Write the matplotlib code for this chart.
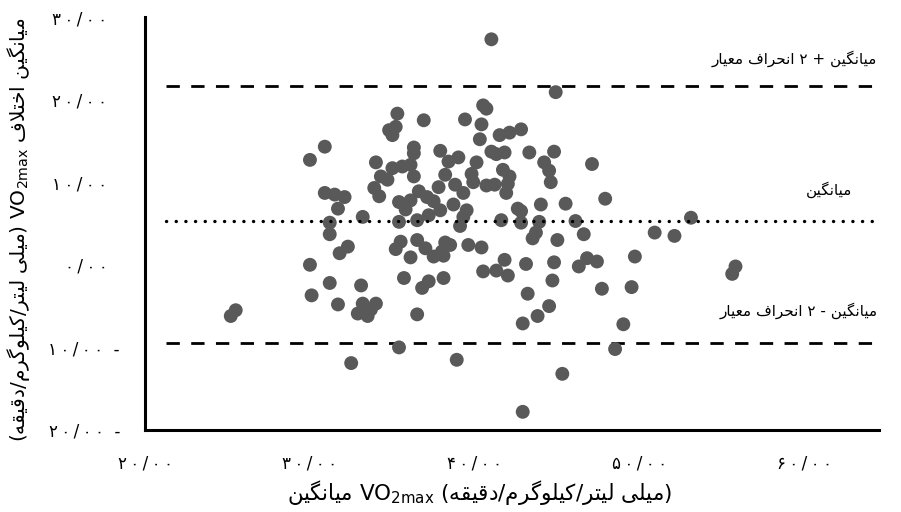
import matplotlib
matplotlib.use("Agg")
import matplotlib.pyplot as plt

# Bland-Altman: mean VO2max (x) vs difference (y)
mean_vo2 = [41.0, 44.9, 40.5, 40.7, 35.3, 36.9, 39.4, 40.4, 34.8, 35.2,
            35.0, 41.5, 42.1, 42.8, 40.3, 30.9, 30.0, 36.3, 36.3, 37.9,
            41.0, 41.3, 41.8, 43.3, 44.8, 34.0, 35.0, 35.6, 36.1, 38.4,
            39.0, 40.1, 44.2, 44.5, 44.6, 47.1, 34.3, 34.7, 36.3, 38.2,
            39.8, 39.9, 41.7, 42.1, 42.0, 41.9, 40.7, 41.2, 33.9, 34.2,
            37.8, 38.8, 39.3, 30.9, 31.5, 32.1, 31.7, 35.4, 35.8, 36.1,
            36.6, 37.1, 37.5, 37.9, 38.7, 39.5, 39.3, 39.1, 42.6, 42.8,
            44.0, 45.5, 47.9, 33.2, 37.2, 31.2, 31.2, 35.4, 36.5, 41.6,
            42.8, 43.9, 43.7, 43.5, 46.1, 53.1, 45.0, 46.6, 50.9, 52.1,
            31.8, 32.3, 35.2, 35.5, 36.5, 37.0, 37.5, 38.1, 38.2, 38.5,
            38.0, 36.1, 39.6, 40.4, 30.0, 31.2, 33.1, 30.1, 31.7, 33.2,
            34.0, 32.9, 33.5, 33.7, 25.5, 25.2, 35.7, 36.8, 37.2, 38.1,
            36.5, 40.5, 41.3, 41.8, 42.0, 43.1, 44.8, 44.7, 43.2, 44.5,
            43.8, 42.9, 46.3, 46.8, 47.4, 49.7, 55.8, 55.6, 47.7, 49.5,
            49.0, 48.5, 35.4, 32.5, 38.9, 45.3, 42.9]
diff_vo2 = [27.3, 20.9, 19.3, 18.9, 18.3, 17.5, 17.6, 17.0, 16.3, 16.7,
            15.7, 15.7, 16.0, 16.4, 15.2, 14.3, 12.7, 14.2, 13.5, 13.8,
            13.7, 13.4, 13.6, 13.6, 13.7, 12.4, 11.7, 11.9, 12.1, 12.5,
            13.0, 12.4, 12.4, 11.4, 10.0, 12.2, 10.7, 10.3, 10.7, 10.9,
            11.0, 10.0, 11.5, 10.7, 9.8, 8.7, 9.6, 9.7, 9.3, 8.3,
            9.4, 9.7, 8.7, 8.7, 8.5, 8.2, 6.8, 7.6, 6.7, 7.8,
            8.9, 8.2, 7.7, 6.6, 7.3, 6.6, 5.8, 4.7, 6.8, 6.5,
            7.3, 7.4, 8.0, 5.8, 6.0, 5.1, 3.7, 5.2, 5.4, 5.4,
            5.1, 5.2, 3.9, 3.2, 5.3, 5.7, 3.0, 3.7, 3.9, 3.5,
            1.4, 2.2, 1.9, 2.8, 3.0, 2.0, 1.0, 1.1, 2.7, 2.4,
            1.6, 0.9, 2.4, 2.1, 0.0, -2.2, -2.5, -3.7, -4.8, -4.7,
            -4.7, -5.9, -6.2, -5.4, -5.5, -6.2, -1.6, -2.8, -2.0, -1.6,
            -6.0, -0.8, -0.7, 0.6, -1.3, 0.1, 0.3, -1.9, -3.5, -5.0,
            -6.2, -7.1, -0.2, 0.8, 0.4, 1.0, -0.2, -1.1, -2.9, -2.7,
            -7.2, -10.2, -10.0, -11.9, -11.5, -13.2, -17.8]

mean_diff = 5.3
upper_loa = 21.7
lower_loa = -9.5
line_x = [21.3, 64.5]

x_ticks = [20, 30, 40, 50, 60]
x_ticklabels = ['۲۰/۰۰', '۳۰/۰۰', '۴۰/۰۰', '۵۰/۰۰', '۶۰/۰۰']
y_ticks = [-20, -10, 0, 10, 20, 30]
y_ticklabels = ['۲۰/۰۰  -', '۱۰/۰۰  -', '۰/۰۰', '۱۰/۰۰', '۲۰/۰۰', '۳۰/۰۰']

# minimal persian shaping (matplotlib has no bidi / joining)
FORMS = {
    'ا': ('\uFE8D', '\uFE8E', None, None),
    'ت': ('\uFE95', '\uFE96', '\uFE97', '\uFE98'),
    'ح': ('\uFEA1', '\uFEA2', '\uFEA3', '\uFEA4'),
    'خ': ('\uFEA5', '\uFEA6', '\uFEA7', '\uFEA8'),
    'د': ('\uFEA9', '\uFEAA', None, None),
    'ر': ('\uFEAD', '\uFEAE', None, None),
    'ع': ('\uFEC9', '\uFECA', '\uFECB', '\uFECC'),
    'ف': ('\uFED1', '\uFED2', '\uFED3', '\uFED4'),
    'ق': ('\uFED5', '\uFED6', '\uFED7', '\uFED8'),
    'ل': ('\uFEDD', '\uFEDE', '\uFEDF', '\uFEE0'),
    'م': ('\uFEE1', '\uFEE2', '\uFEE3', '\uFEE4'),
    'ن': ('\uFEE5', '\uFEE6', '\uFEE7', '\uFEE8'),
    'ه': ('\uFEE9', '\uFEEA', '\uFEEB', '\uFEEC'),
    'و': ('\uFEED', '\uFEEE', None, None),
    'ی': ('\uFBFC', '\uFBFD', '\uFBFE', '\uFBFF'),
    'ک': ('\uFB8E', '\uFB8F', '\uFB90', '\uFB91'),
    'گ': ('\uFB92', '\uFB93', '\uFB94', '\uFB95'),
}


def shape(text):
    out = []
    i = 0
    n = len(text)
    while i < n:
        c = text[i]
        if c not in FORMS:
            out.append(c)
            i += 1
            continue
        prev = text[i - 1] if i > 0 else ''
        joins_prev = prev in FORMS and FORMS[prev][2] is not None
        if c == 'ل' and i + 1 < n and text[i + 1] == 'ا':
            out.append('\uFEFC' if joins_prev else '\uFEFB')
            i += 2
            continue
        nxt = text[i + 1] if i + 1 < n else ''
        joins_next = FORMS[c][2] is not None and nxt in FORMS
        iso, fin, ini, med = FORMS[c]
        if joins_prev and joins_next:
            out.append(med)
        elif joins_prev:
            out.append(fin)
        elif joins_next:
            out.append(ini)
        else:
            out.append(iso)
        i += 1
    return ''.join(out)


def rtl(text):
    return shape(text)[::-1].translate(str.maketrans('()', ')('))


def spaced(s):
    # the original number format has wide letter spacing
    return '\u2009'.join(s)


plt.rcParams['font.family'] = ['DejaVu Sans']
plt.rcParams['mathtext.fontset'] = 'dejavusans'

fig = plt.figure(figsize=(9.01, 5.12), dpi=100)
ax = fig.add_axes([145 / 901, 1 - 430 / 512, 734 / 901, 413 / 512])

ax.scatter(mean_vo2, diff_vo2, s=100, color='#595959', edgecolors='none', zorder=3)

ax.plot(line_x, [upper_loa, upper_loa], color='black', lw=2.0,
        linestyle=(0, (4.8, 4.1)), zorder=2)
ax.plot(line_x, [lower_loa, lower_loa], color='black', lw=2.0,
        linestyle=(0, (4.8, 4.1)), zorder=2)
ax.plot(line_x, [mean_diff, mean_diff], color='black', lw=2.4,
        linestyle=(0, (0.05, 2.85)), dash_capstyle='round', zorder=4)

ax.text(64.4, upper_loa + 3.3, rtl('میانگین + ۲ انحراف معیار'),
        ha='right', va='center', fontsize=11)
ax.text(61.5, mean_diff + 3.8, rtl('میانگین'), ha='center', va='center', fontsize=11)
ax.text(64.4, lower_loa + 4.0, rtl('میانگین - ۲ انحراف معیار'),
        ha='right', va='center', fontsize=11)

ax.set_xlim(20, 64.5)
ax.set_ylim(-20, 30)
ax.set_xticks(x_ticks)
ax.set_xticklabels([spaced(t) for t in x_ticklabels])
ax.set_yticks(y_ticks)
ax.set_yticklabels([spaced(t) if '-' not in t else spaced(t[:-3]) + t[-3:] for t in y_ticklabels])
ax.tick_params(axis='both', length=0, labelsize=12)
ax.tick_params(axis='x', pad=18)
for val, tick in zip(y_ticks, ax.yaxis.get_major_ticks()):
    tick.set_pad(18 if val < 0 else 27)

for side in ['top', 'right']:
    ax.spines[side].set_visible(False)
ax.spines['left'].set_linewidth(2.2)
ax.spines['bottom'].set_linewidth(2.2)

ylab = rtl('(میلی لیتر/کیلوگرم/دقیقه)') + r' VO$_{\mathregular{2max}}$ ' + rtl('میانگین اختلاف')
ax.set_ylabel(ylab, fontsize=14.5)
ax.yaxis.set_label_coords(-0.173, 0.484)
ax.yaxis.label.set_va('center')

xlab = rtl('میانگین') + r' VO$_{\mathregular{2max}}$ ' + rtl('(میلی لیتر/کیلوگرم/دقیقه)')
ax.set_xlabel(xlab, fontsize=15.5)
ax.xaxis.set_label_coords(0.456, -0.152)
ax.xaxis.label.set_va('center')

fig.savefig('out.png', dpi=100)
